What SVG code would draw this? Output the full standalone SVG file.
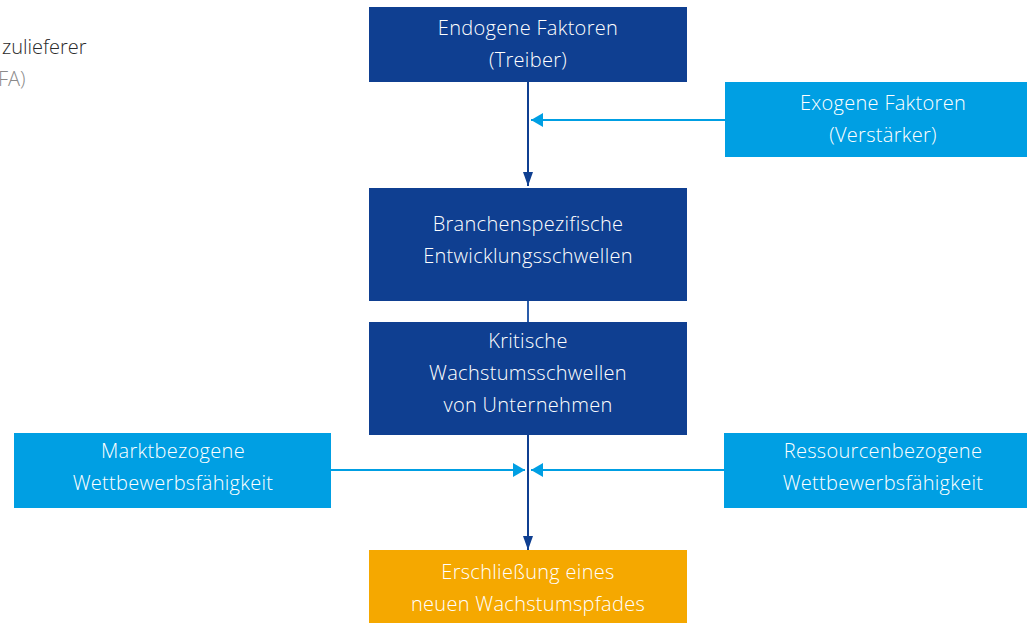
<svg xmlns="http://www.w3.org/2000/svg" width="1027" height="623" viewBox="0 0 1027 623">
<style>
.t{font-family:"Open Sans","Liberation Sans",sans-serif;font-weight:300;font-size:20px;letter-spacing:0.3px;fill:#ffffff;text-anchor:middle}
.dk{fill:#0f3f91}
.lt{fill:#009fe3}
.or{fill:#f5a800}
.side{font-family:"Open Sans","Liberation Sans",sans-serif;font-weight:300;font-size:20px}
</style>
<defs>
<marker id="ad" markerWidth="14" markerHeight="10" refX="14" refY="5" orient="auto" markerUnits="userSpaceOnUse"><path d="M0,0 L14,5 L0,10 z" fill="#0f3f91"/></marker>
<marker id="al" markerWidth="12" markerHeight="14" refX="12" refY="7" orient="auto" markerUnits="userSpaceOnUse"><path d="M0,0 L12,7 L0,14 z" fill="#009fe3"/></marker>
</defs>
<text class="side" x="2" y="54" fill="#2b2b2b">zulieferer</text>
<text class="side" x="-2" y="86" fill="#8a8a8a" font-size="16">FA)</text>
<g id="connectors">
<line x1="528" y1="82" x2="528" y2="186" stroke="#0f3f91" stroke-width="2" marker-end="url(#ad)"/>
<line x1="725" y1="120" x2="531" y2="120" stroke="#009fe3" stroke-width="2" marker-end="url(#al)"/>
<line x1="528" y1="301" x2="528" y2="322" stroke="#2a5caa" stroke-width="2"/>
<line x1="528" y1="435" x2="528" y2="550" stroke="#0f3f91" stroke-width="2" marker-end="url(#ad)"/>
<line x1="331" y1="470" x2="525" y2="470" stroke="#009fe3" stroke-width="2" marker-end="url(#al)"/>
<line x1="724" y1="470" x2="531" y2="470" stroke="#009fe3" stroke-width="2" marker-end="url(#al)"/>
</g>
<g id="endogen"><rect class="dk" x="369" y="7" width="318" height="75"/><text class="t" x="528" y="35">Endogene Faktoren</text><text class="t" x="528" y="67">(Treiber)</text></g>
<g id="exogen"><rect class="lt" x="725" y="82" width="302" height="75"/><text class="t" x="883" y="110">Exogene Faktoren</text><text class="t" x="883" y="142">(Verstärker)</text></g>
<g id="branchen"><rect class="dk" x="369" y="188" width="318" height="113"/><text class="t" x="528" y="231">Branchenspezifische</text><text class="t" x="528" y="263">Entwicklungsschwellen</text></g>
<g id="kritisch"><rect class="dk" x="369" y="322" width="318" height="113"/><text class="t" x="528" y="348">Kritische</text><text class="t" x="528" y="380">Wachstumsschwellen</text><text class="t" x="528" y="412">von Unternehmen</text></g>
<g id="markt"><rect class="lt" x="14" y="433" width="317" height="75"/><text class="t" x="173" y="458">Marktbezogene</text><text class="t" x="173" y="490">Wettbewerbsfähigkeit</text></g>
<g id="ressource"><rect class="lt" x="724" y="433" width="303" height="75"/><text class="t" x="883" y="458">Ressourcenbezogene</text><text class="t" x="883" y="490">Wettbewerbsfähigkeit</text></g>
<g id="pfad"><rect class="or" x="369" y="550" width="318" height="73"/><text class="t" x="528" y="579">Erschließung eines</text><text class="t" x="528" y="611">neuen Wachstumspfades</text></g>
</svg>
